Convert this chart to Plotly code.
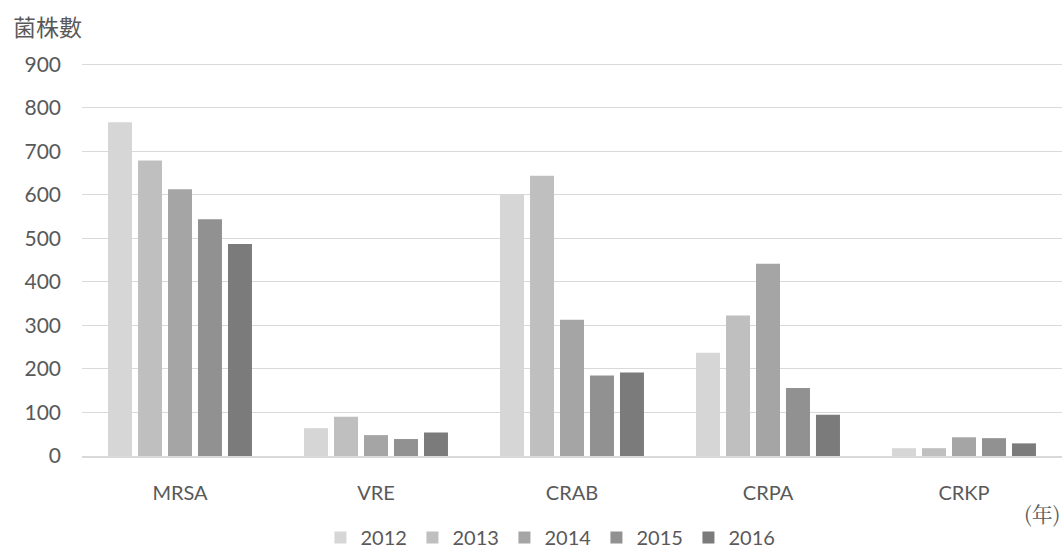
import plotly.graph_objects as go

categories = ["MRSA", "VRE", "CRAB", "CRPA", "CRKP"]
years = ["2012", "2013", "2014", "2015", "2016"]
v2012 = [767, 64, 601, 237, 18]
v2013 = [679, 90, 644, 323, 18]
v2014 = [613, 48, 313, 442, 43]
v2015 = [544, 39, 185, 156, 41]
v2016 = [487, 54, 192, 95, 29]
series = [v2012, v2013, v2014, v2015, v2016]
colors = ["#D6D6D6", "#BFBFBF", "#A5A5A5", "#919191", "#7B7B7B"]
yticks = [0, 100, 200, 300, 400, 500, 600, 700, 800, 900]

fig = go.Figure()
for name, vals, c in zip(years, series, colors):
    fig.add_trace(go.Bar(x=categories, y=vals, name=name, marker=dict(color=c, line=dict(width=0))))

font_main = "Lato, 'Noto Sans', sans-serif"
fig.update_layout(
    width=1064, height=548,
    margin=dict(l=82, r=2, t=63, b=92, autoexpand=False),
    paper_bgcolor="white", plot_bgcolor="white",
    barmode="group", bargap=0.235, bargroupgap=0.2,
    font=dict(family=font_main, color="#595959", size=20),
    showlegend=True,
    legend=dict(orientation="h", x=0.478, xanchor="center", y=-0.158, yanchor="top",
                font=dict(size=20, color="#595959"), itemwidth=30, entrywidth=47,
                traceorder="normal"),
    xaxis=dict(showgrid=False, showline=True, linecolor="#D9D9D9", linewidth=1.5,
               ticks="", tickfont=dict(size=20), ticklabelstandoff=18, automargin=False),
    yaxis=dict(range=[0, 903], tickvals=yticks, showgrid=True, gridcolor="#D9D9D9", gridwidth=1,
               zeroline=False, showline=False, ticks="", tickfont=dict(size=21),
               ticklabelstandoff=20, automargin=False),
)
fig.add_annotation(text="菌株數", xref="paper", yref="paper", x=-0.072, y=1.093,
                   xanchor="left", yanchor="middle", showarrow=False,
                   font=dict(family="Noto Sans CJK TC", size=23, color="#595959"))
fig.add_annotation(text="(年)", xref="paper", yref="paper", x=1.0, y=-0.145,
                   xanchor="right", yanchor="middle", showarrow=False,
                   font=dict(family="'Noto Serif CJK TC', 'DejaVu Serif', 'Noto Sans CJK TC'", size=21, color="#595959"))

fig.write_html("out.html")
